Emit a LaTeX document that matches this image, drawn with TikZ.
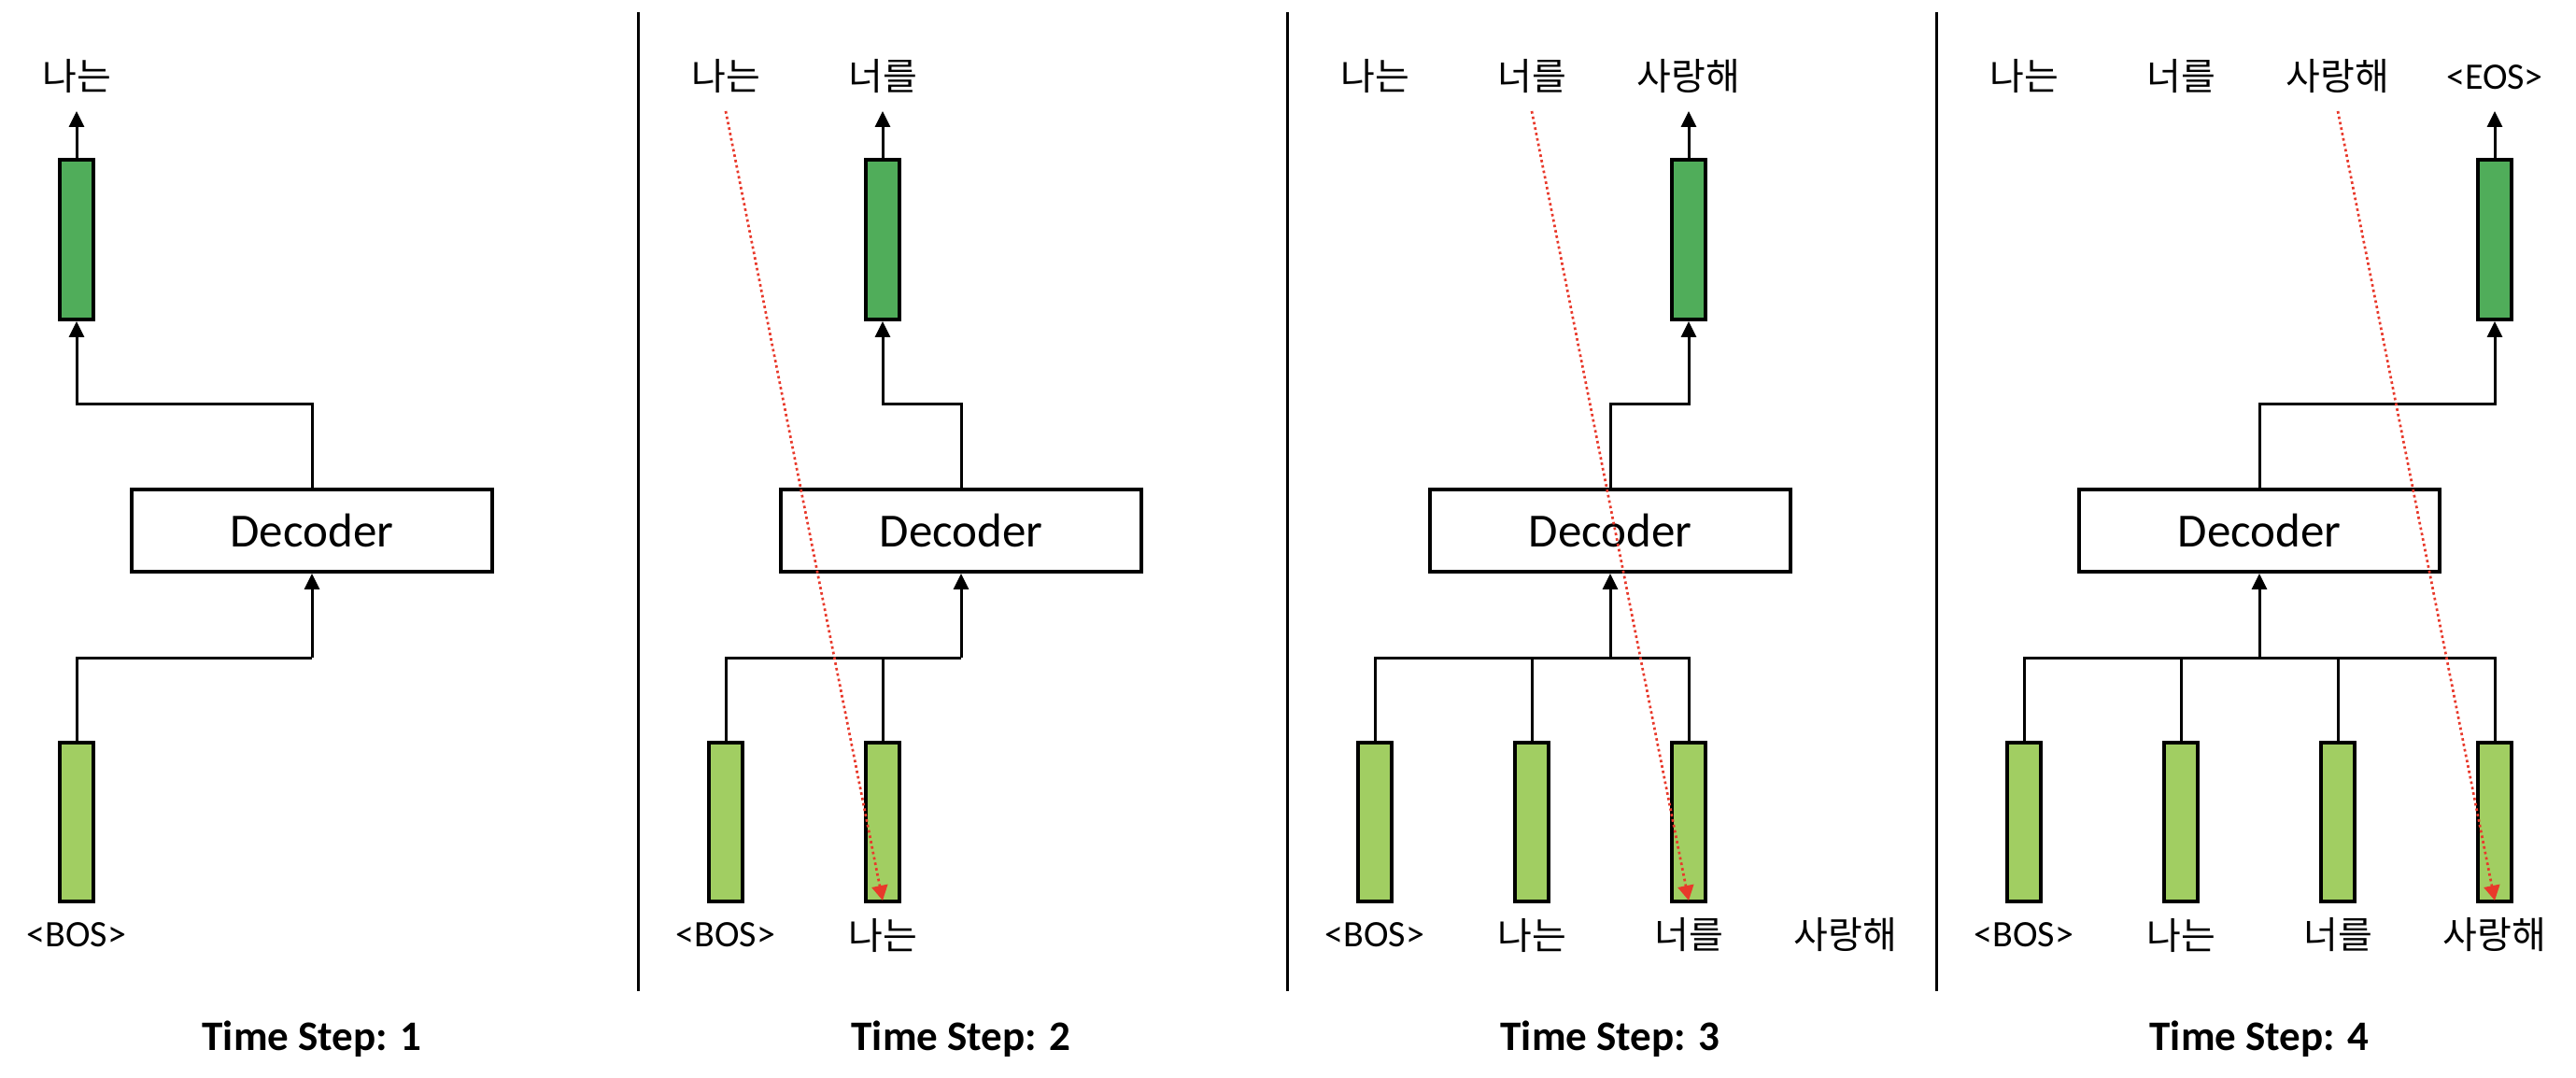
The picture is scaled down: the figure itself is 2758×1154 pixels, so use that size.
\documentclass[tikz,border=0pt]{standalone}
\usepackage{fontspec}
\setmainfont{Carlito}
\newfontfamily\krfont{Noto Sans CJK KR}
\usetikzlibrary{arrows.meta}
\definecolor{outgreen}{HTML}{50AD5A}
\definecolor{ingreen}{HTML}{A1CE62}
\definecolor{attred}{HTML}{E8392B}
\begin{document}
\begin{tikzpicture}[x=0.5pt,y=-0.5pt,
  vecout/.style={draw,line width=2pt,fill=outgreen,minimum width=18pt,minimum height=85.5pt,inner sep=0,outer sep=1pt},
  vecin/.style={draw,line width=2pt,fill=ingreen,minimum width=18pt,minimum height=85pt,inner sep=0,outer sep=1pt},
  decbox/.style={draw,line width=2pt,minimum width=193pt,minimum height=44pt,inner sep=0,outer sep=1pt,font=\fontsize{25.5}{30}\selectfont},
  lbl/.style={inner sep=0,font=\fontsize{20}{24}\selectfont},
  klbl/.style={inner sep=0,font=\fontsize{20}{24}\krfont},
  steplbl/.style={inner sep=0,font=\fontsize{22.5}{27}\selectfont\bfseries},
  conn/.style={line width=1.5pt},
  arr/.style={conn,-{Triangle[width=8pt,length=8.5pt]}},
  attn/.style={draw=attred,line width=1.35pt,dash pattern=on 1.35pt off 1.6pt,-{Triangle[width=8.5pt,length=8pt,fill=attred]}},
  divider/.style={line width=1.5pt}
]
\useasboundingbox (0,0) rectangle (2758,1154);

% dividers
\draw[divider] (683,13) -- (683,1061);
\draw[divider] (1378,13) -- (1378,1061);
\draw[divider] (2073,13) -- (2073,1061);

% ---------------- Panel 1
\begin{scope}
\node[decbox] (d1) at (334,568) {Decoder};
\node[vecout] (o1) at (82,256.5) {};
\node[vecin] (i1a) at (82,880) {};
\node[klbl] (t1a) at (82,82) {나는};
\node[lbl] (b1a) at (82,1001) {<BOS>};
\node[steplbl] (s1) at (334,1112) {Time Step: 1};
\coordinate (o1tip) at (82,119);
\coordinate (h1) at (334,433);
\coordinate (bus1) at (334,704);
\draw[arr] (o1.north) -- (o1tip);
\draw[arr] (d1.north) -- (h1) -| (o1.south);
\draw[conn] (i1a.north) |- (bus1);
\draw[arr] (bus1) -- (d1.south);
\end{scope}

% ---------------- Panel 2
\begin{scope}[xshift=347.5pt]
\node[decbox] (d2) at (334,568) {Decoder};
\node[vecout] (o2) at (250,256.5) {};
\node[vecin] (i2a) at (82,880) {};
\node[vecin] (i2b) at (250,880) {};
\node[klbl] (t2a) at (82,82) {나는};
\node[klbl] (t2b) at (250,82) {너를};
\node[lbl] (b2a) at (82,1001) {<BOS>};
\node[klbl] (b2b) at (250,1001) {나는};
\node[steplbl] (s2) at (334,1112) {Time Step: 2};
\coordinate (o2tip) at (250,119);
\coordinate (a2s) at (82,119);
\coordinate (a2e) at (250,964);
\coordinate (h2) at (334,433);
\coordinate (bus2) at (334,704);
\draw[arr] (o2.north) -- (o2tip);
\draw[arr] (d2.north) -- (h2) -| (o2.south);
\draw[conn] (i2a.north) |- (bus2);
\draw[conn] (i2b.north) -- (i2b.north |- bus2);
\draw[arr] (bus2) -- (d2.south);
\draw[attn] (a2s) -- (a2e);
\end{scope}

% ---------------- Panel 3
\begin{scope}[xshift=695pt]
\node[decbox] (d3) at (334,568) {Decoder};
\node[vecout] (o3) at (418,256.5) {};
\node[vecin] (i3a) at (82,880) {};
\node[vecin] (i3b) at (250,880) {};
\node[vecin] (i3c) at (418,880) {};
\node[klbl] (t3a) at (82,82) {나는};
\node[klbl] (t3b) at (250,82) {너를};
\node[klbl] (t3c) at (418,82) {사랑해};
\node[lbl] (b3a) at (82,1001) {<BOS>};
\node[klbl] (b3b) at (250,1001) {나는};
\node[klbl] (b3c) at (418,1001) {너를};
\node[klbl] (b3d) at (586,1001) {사랑해};
\node[steplbl] (s3) at (334,1112) {Time Step: 3};
\coordinate (o3tip) at (418,119);
\coordinate (a3s) at (250,119);
\coordinate (a3e) at (418,964);
\coordinate (h3) at (334,433);
\coordinate (bus3) at (334,704);
\draw[arr] (o3.north) -- (o3tip);
\draw[arr] (d3.north) -- (h3) -| (o3.south);
\draw[conn] (i3a.north) |- (bus3) -| (i3c.north);
\draw[conn] (i3b.north) -- (i3b.north |- bus3);
\draw[arr] (bus3) -- (d3.south);
\draw[attn] (a3s) -- (a3e);
\end{scope}

% ---------------- Panel 4
\begin{scope}[xshift=1042.5pt]
\node[decbox] (d4) at (334,568) {Decoder};
\node[vecout] (o4) at (586,256.5) {};
\node[vecin] (i4a) at (82,880) {};
\node[vecin] (i4b) at (250,880) {};
\node[vecin] (i4c) at (418,880) {};
\node[vecin] (i4d) at (586,880) {};
\node[klbl] (t4a) at (82,82) {나는};
\node[klbl] (t4b) at (250,82) {너를};
\node[klbl] (t4c) at (418,82) {사랑해};
\node[lbl] (t4d) at (586,83) {<EOS>};
\node[lbl] (b4a) at (82,1001) {<BOS>};
\node[klbl] (b4b) at (250,1001) {나는};
\node[klbl] (b4c) at (418,1001) {너를};
\node[klbl] (b4d) at (586,1001) {사랑해};
\node[steplbl] (s4) at (334,1112) {Time Step: 4};
\coordinate (o4tip) at (586,119);
\coordinate (a4s) at (418,119);
\coordinate (a4e) at (586,964);
\coordinate (h4) at (334,433);
\coordinate (bus4) at (334,704);
\draw[arr] (o4.north) -- (o4tip);
\draw[arr] (d4.north) -- (h4) -| (o4.south);
\draw[conn] (i4a.north) |- (bus4) -| (i4d.north);
\draw[conn] (i4b.north) -- (i4b.north |- bus4);
\draw[conn] (i4c.north) -- (i4c.north |- bus4);
\draw[arr] (bus4) -- (d4.south);
\draw[attn] (a4s) -- (a4e);
\end{scope}
\end{tikzpicture}
\end{document}
